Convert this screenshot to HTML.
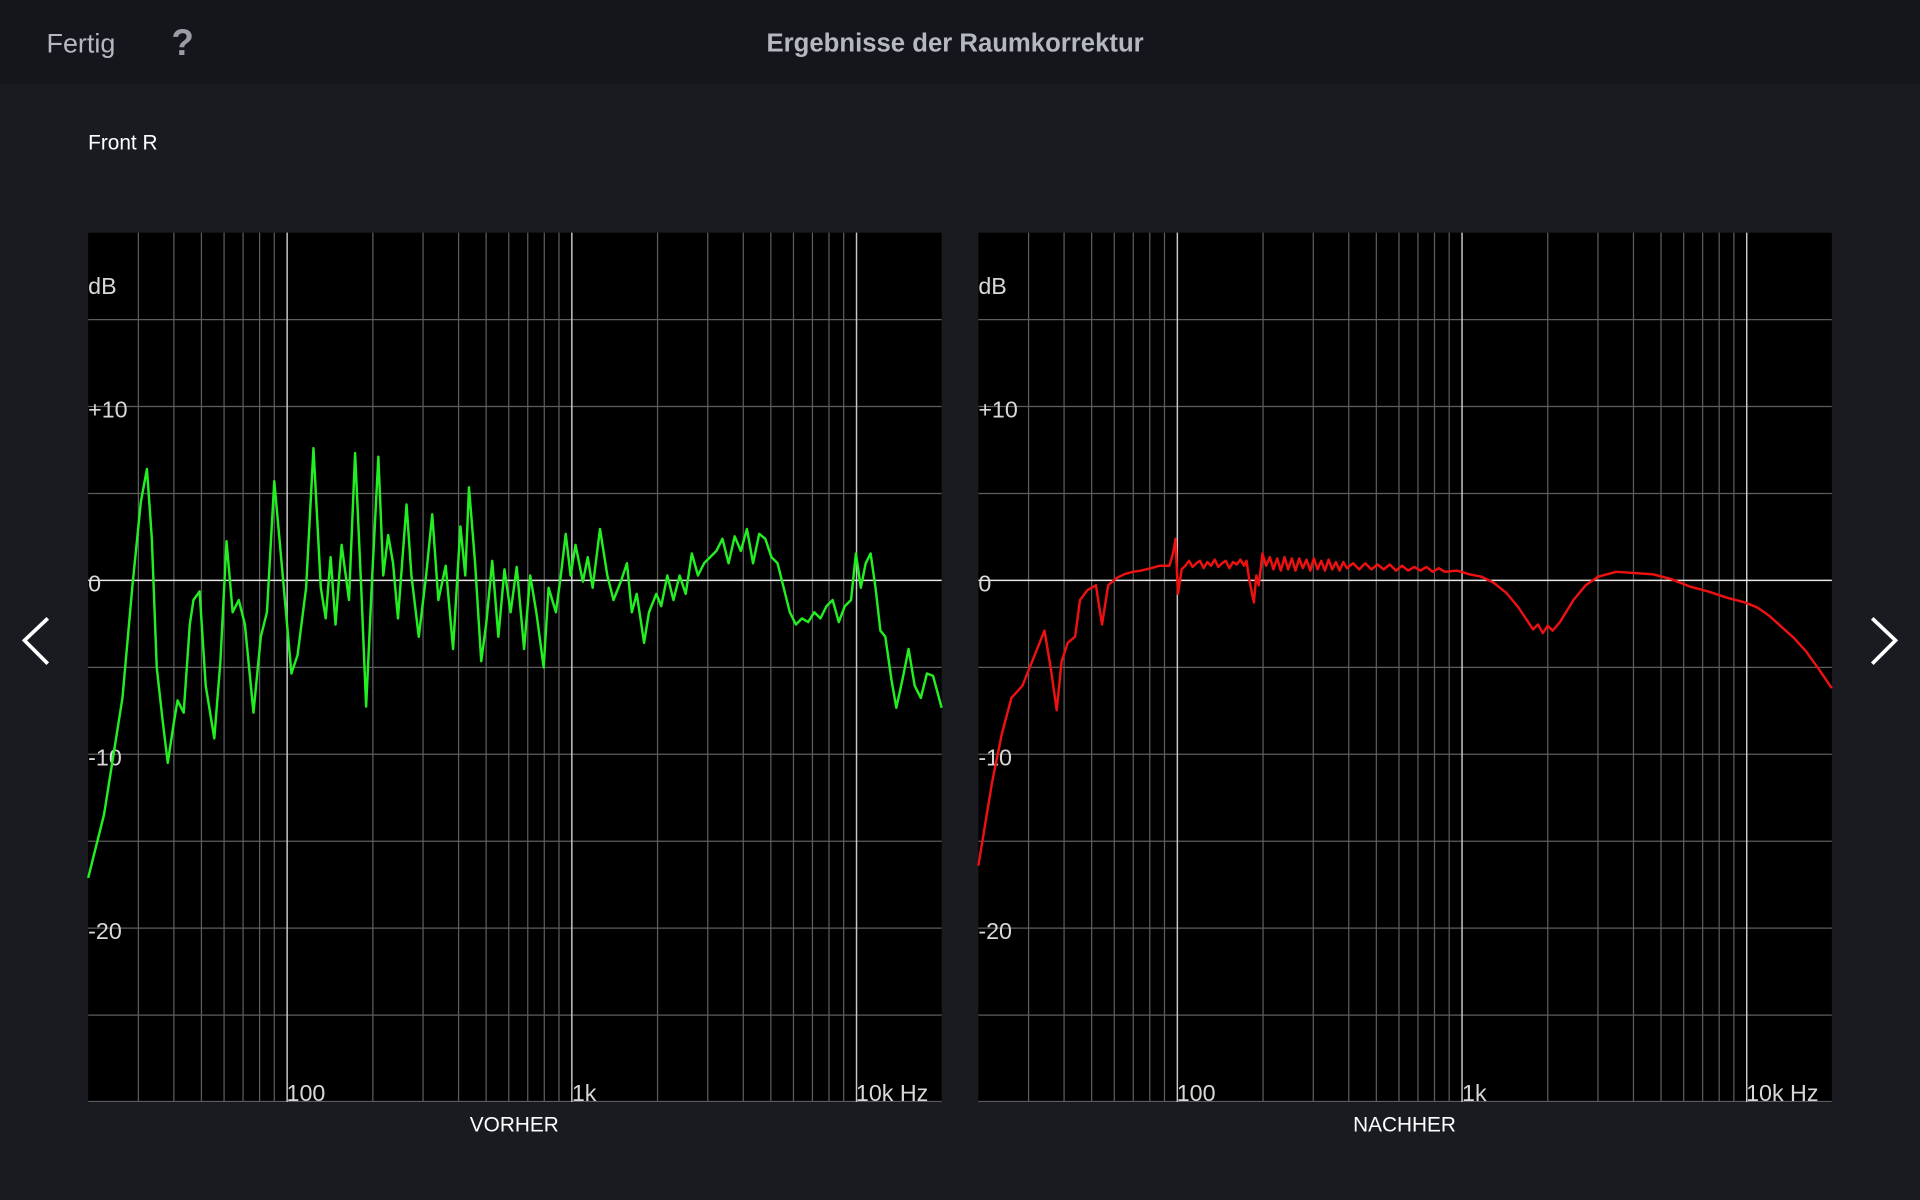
<!DOCTYPE html>
<html><head><meta charset="utf-8"><style>
html,body{margin:0;padding:0;background:#191b21;}
svg{display:block}
text{font-family:"Liberation Sans",sans-serif;}
</style></head><body>
<svg width="1920" height="1200" viewBox="0 0 1568 980" xmlns="http://www.w3.org/2000/svg">
<defs>
<g id="grid">
<rect x="0" y="0" width="697" height="710" fill="#000"/>
<g stroke="#5e5e5e" stroke-width="1">
<line x1="41" y1="0" x2="41" y2="710"/><line x1="70" y1="0" x2="70" y2="710"/><line x1="92.5" y1="0" x2="92.5" y2="710"/><line x1="111" y1="0" x2="111" y2="710"/><line x1="126.5" y1="0" x2="126.5" y2="710"/><line x1="140" y1="0" x2="140" y2="710"/><line x1="152" y1="0" x2="152" y2="710"/>
<line x1="232.5" y1="0" x2="232.5" y2="710"/><line x1="273.5" y1="0" x2="273.5" y2="710"/><line x1="302.5" y1="0" x2="302.5" y2="710"/><line x1="325" y1="0" x2="325" y2="710"/><line x1="343.5" y1="0" x2="343.5" y2="710"/><line x1="359" y1="0" x2="359" y2="710"/><line x1="372.5" y1="0" x2="372.5" y2="710"/><line x1="384.5" y1="0" x2="384.5" y2="710"/>
<line x1="465" y1="0" x2="465" y2="710"/><line x1="506" y1="0" x2="506" y2="710"/><line x1="535" y1="0" x2="535" y2="710"/><line x1="557.5" y1="0" x2="557.5" y2="710"/><line x1="576" y1="0" x2="576" y2="710"/><line x1="591.5" y1="0" x2="591.5" y2="710"/><line x1="605" y1="0" x2="605" y2="710"/><line x1="617" y1="0" x2="617" y2="710"/>
<line x1="0" y1="71" x2="697" y2="71"/><line x1="0" y1="142" x2="697" y2="142"/><line x1="0" y1="213" x2="697" y2="213"/><line x1="0" y1="355" x2="697" y2="355"/><line x1="0" y1="426" x2="697" y2="426"/><line x1="0" y1="497" x2="697" y2="497"/><line x1="0" y1="568" x2="697" y2="568"/><line x1="0" y1="639" x2="697" y2="639"/><line x1="0" y1="709.5" x2="697" y2="709.5"/>
</g>
<g stroke="#c8c8c8" stroke-width="1.2">
<line x1="162.5" y1="0" x2="162.5" y2="710"/>
<line x1="395" y1="0" x2="395" y2="710"/>
<line x1="627.5" y1="0" x2="627.5" y2="710"/>
</g>
<line x1="0" y1="284" x2="697" y2="284" stroke="#e8e8e8" stroke-width="1.2"/>
</g>
</defs>

<rect x="0" y="0" width="1568" height="980" fill="#191b21"/>
<rect x="0" y="0" width="1568" height="68" fill="#14161b"/>
<text x="38" y="43" font-size="22" fill="#b4b8bf">Fertig</text>
<text x="140" y="45" font-size="30" font-weight="bold" fill="#9a9da3">?</text>
<text x="780" y="42" font-size="21" font-weight="bold" fill="#b4b8bf" text-anchor="middle">Ergebnisse der Raumkorrektur</text>
<text x="72" y="122" font-size="17" fill="#ffffff">Front R</text>

<g transform="translate(72,190)"><use href="#grid"/></g>
<g transform="translate(799,190)"><use href="#grid"/></g>

<g font-size="19" fill="#d8d8d8">
<text x="72" y="240">dB</text><text x="72" y="341">+10</text><text x="72" y="483">0</text><text x="72" y="625">-10</text><text x="72" y="767">-20</text>
<text x="234" y="899">100</text><text x="467" y="899">1k</text><text x="699" y="899">10k Hz</text>
<text x="799" y="240">dB</text><text x="799" y="341">+10</text><text x="799" y="483">0</text><text x="799" y="625">-10</text><text x="799" y="767">-20</text>
<text x="961" y="899">100</text><text x="1194" y="899">1k</text><text x="1426" y="899">10k Hz</text>
</g>
<g font-size="17" fill="#ffffff" text-anchor="middle">
<text x="420" y="924">VORHER</text><text x="1147" y="924">NACHHER</text>
</g>

<polyline fill="none" stroke="#22ee22" stroke-width="2" stroke-linejoin="round" points="72,717 85,665 100,570 108,480 115,410 120,383 124,440 128,545 133,590 137,623 142,590 145,572 150,582 155,510 158,490 163,483 168,560 175,603 180,540 185,442 190,500 195,490 200,510 207,582 213,520 218,500 224,393 230,460 238,550 243,535 250,480 256,366 262,480 266,505 270,455 274,510 279,445 285,490 290,370 295,480 299,577 304,470 309,373 313,470 317,437 321,460 325,505 332,412 336,470 342,520 348,470 353,420 358,490 364,462 370,530 376,430 380,470 383,398 388,460 393,540 397,510 402,458 407,520 412,465 417,500 422,463 428,530 433,470 438,500 444,545 448,480 454,500 458,470 462,436 466,470 470,445 476,475 480,455 484,480 490,432 496,470 501,490 507,475 512,460 516,500 520,485 526,525 530,500 536,485 540,495 545,470 550,490 555,470 560,485 565,452 570,470 575,460 580,455 585,450 590,440 595,460 600,438 605,450 610,432 615,460 620,436 625,440 630,455 635,460 640,480 645,500 650,510 655,505 660,508 665,500 670,505 675,495 680,490 685,508 690,495 695,490 699,452 703,480 707,460 711,452 715,480 719,515 723,520 728,555 732,578 737,555 742,530 747,560 752,570 757,550 762,552 769,578"/>

<polyline fill="none" stroke="#ee1111" stroke-width="2" stroke-linejoin="round" points="799,707 810,640 818,600 826,570 835,560 845,535 853,515 858,545 863,580 867,540 872,525 878,520 882,490 888,482 895,478 900,510 905,478 912,472 918,469 925,467 932,466 940,464 947,462 955,462 958,452 960,440 962,485 965,465 968,462 971,458 974,463 977,460 980,458 983,464 986,459 989,462 992,457 995,463 998,460 1001,458 1004,464 1007,459 1010,461 1013,457 1016,462 1018,458 1020,472 1024,492 1026,470 1028,478 1031,452 1034,462 1037,455 1040,465 1043,456 1046,466 1049,455 1052,465 1055,456 1058,466 1061,456 1064,464 1067,457 1070,466 1073,456 1076,465 1079,458 1082,466 1085,457 1088,465 1091,459 1094,466 1097,459 1100,464 1105,460 1110,465 1115,460 1120,465 1125,461 1130,465 1135,461 1140,466 1145,462 1150,466 1155,463 1160,466 1165,463 1170,467 1175,464 1180,467 1190,466 1200,469 1210,471 1220,476 1230,484 1240,496 1246,505 1252,514 1256,510 1260,517 1264,511 1268,515 1274,508 1285,490 1295,478 1305,471 1320,467 1335,468 1350,469 1365,473 1380,479 1395,483 1410,488 1425,492 1435,496 1445,503 1455,512 1465,521 1475,532 1485,546 1496,562"/>

<polyline fill="none" stroke="#ffffff" stroke-width="3" points="39,505 20,523 39,542"/>
<polyline fill="none" stroke="#ffffff" stroke-width="3" points="1529,505 1548,523 1529,542"/>
</svg>
</body></html>
